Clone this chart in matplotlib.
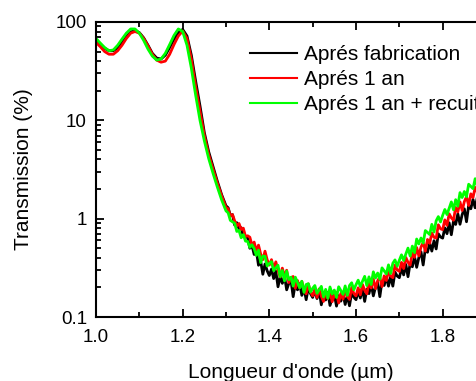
import numpy as np
import matplotlib
matplotlib.use("Agg")
import matplotlib.pyplot as plt
from matplotlib.ticker import FixedLocator, FixedFormatter, LogLocator, NullFormatter, MultipleLocator

plt.rcParams['font.family'] = ['Liberation Sans', 'DejaVu Sans']

# wavelength grid (um): smooth part every 0.01, noisy part every 0.005
wl_smooth = np.arange(100, 131) / 100
wl_noisy = np.arange(261, 377) * 0.005

# transmission (%)
black_smooth = [64, 59, 54, 51, 51, 55, 62, 71, 79, 82,
                78, 69, 58, 48, 43, 42, 46, 55, 67, 78,
                84, 72, 46, 25, 14, 7.5, 4.8, 3.4, 2.4, 1.75, 1.35]
red_smooth = [62, 56, 50, 47, 47, 51, 58, 68, 77, 80,
              77, 68, 57, 47, 41, 39, 40, 47, 59, 72,
              81, 68, 42, 22, 12.5, 7, 4.5, 3.2, 2.3, 1.7, 1.3]
green_smooth = [68, 61, 55, 51, 52, 58, 67, 77, 85, 85,
                77, 65, 53, 45, 41, 42, 48, 59, 73, 85,
                80, 58, 34, 18, 10, 6.2, 4.1, 2.9, 2.1, 1.55, 1.2]

black_noisy = [1.29, 1.08, 1.10, 0.86, 0.91, 0.79, 0.81, 0.655, 0.663, 0.64,
               0.50, 0.533, 0.432, 0.469, 0.336, 0.371, 0.272, 0.346, 0.295, 0.264,
               0.307, 0.246, 0.292, 0.203, 0.257, 0.22, 0.261, 0.189, 0.22, 0.235,
               0.161, 0.22, 0.189, 0.218, 0.166, 0.196, 0.15, 0.2, 0.173, 0.158,
               0.188, 0.154, 0.186, 0.133, 0.17, 0.149, 0.178, 0.131, 0.156, 0.169,
               0.129, 0.165, 0.145, 0.171, 0.134, 0.165, 0.13, 0.178, 0.159, 0.15,
               0.183, 0.156, 0.195, 0.144, 0.192, 0.173, 0.216, 0.164, 0.201, 0.225,
               0.161, 0.231, 0.209, 0.256, 0.206, 0.258, 0.206, 0.286, 0.261, 0.251,
               0.313, 0.268, 0.342, 0.257, 0.352, 0.324, 0.413, 0.32, 0.402, 0.46,
               0.338, 0.494, 0.455, 0.567, 0.468, 0.597, 0.492, 0.702, 0.651, 0.634,
               0.806, 0.704, 0.907, 0.686, 0.944, 0.873, 1.12, 0.877, 1.10, 1.26,
               0.93, 1.365, 1.26, 1.57, 1.29, 1.65]
red_noisy = [1.26, 1.064, 1.10, 0.95, 0.846, 0.893, 0.776, 0.80, 0.658, 0.67,
             0.648, 0.537, 0.578, 0.469, 0.538, 0.437, 0.383, 0.467, 0.382, 0.337,
             0.383, 0.306, 0.364, 0.298, 0.255, 0.314, 0.259, 0.299, 0.224, 0.252,
             0.258, 0.196, 0.235, 0.198, 0.23, 0.19, 0.172, 0.217, 0.181, 0.164,
             0.191, 0.158, 0.193, 0.163, 0.144, 0.182, 0.154, 0.184, 0.143, 0.167,
             0.177, 0.139, 0.174, 0.152, 0.185, 0.162, 0.151, 0.2, 0.173, 0.164,
             0.198, 0.168, 0.214, 0.187, 0.172, 0.226, 0.197, 0.243, 0.194, 0.234,
             0.254, 0.204, 0.262, 0.235, 0.294, 0.261, 0.251, 0.336, 0.301, 0.291,
             0.359, 0.311, 0.403, 0.36, 0.337, 0.451, 0.404, 0.509, 0.418, 0.515,
             0.572, 0.468, 0.615, 0.561, 0.716, 0.646, 0.634, 0.866, 0.789, 0.774,
             0.972, 0.855, 1.12, 1.02, 0.963, 1.30, 1.17, 1.48, 1.21, 1.49,
             1.67, 1.36, 1.79, 1.64, 2.08, 1.85]
green_noisy = [1.145, 0.96, 0.928, 0.899, 0.741, 0.759, 0.639, 0.688, 0.591, 0.587,
               0.51, 0.543, 0.495, 0.423, 0.479, 0.357, 0.417, 0.414, 0.33, 0.35,
               0.366, 0.296, 0.317, 0.336, 0.257, 0.297, 0.233, 0.293, 0.24, 0.254,
               0.206, 0.254, 0.224, 0.198, 0.231, 0.178, 0.214, 0.218, 0.179, 0.196,
               0.209, 0.174, 0.189, 0.205, 0.16, 0.191, 0.155, 0.202, 0.171, 0.188,
               0.158, 0.203, 0.186, 0.17, 0.207, 0.166, 0.209, 0.223, 0.189, 0.213,
               0.237, 0.204, 0.231, 0.259, 0.209, 0.256, 0.214, 0.288, 0.249, 0.28,
               0.242, 0.316, 0.295, 0.274, 0.339, 0.277, 0.352, 0.381, 0.328, 0.378,
               0.429, 0.376, 0.437, 0.502, 0.417, 0.526, 0.451, 0.621, 0.553, 0.636,
               0.565, 0.757, 0.724, 0.69, 0.875, 0.731, 0.952, 1.05, 0.925, 1.08,
               1.24, 1.10, 1.28, 1.48, 1.23, 1.56, 1.34, 1.84, 1.64, 1.89,
               1.67, 2.24, 2.13, 2.02, 2.55, 2.13]

labels = ["Aprés fabrication", "Aprés 1 an", "Aprés 1 an + recuit"]
colors = ["black", "#ff0000", "#00ff00"]

wl = np.concatenate([wl_smooth, wl_noisy])
series = [black_smooth + black_noisy, red_smooth + red_noisy, green_smooth + green_noisy]

fig = plt.figure(figsize=(4.77, 3.81), dpi=100)
ax = fig.add_axes([96 / 477, 64 / 381, 390 / 477, 295 / 381])

for y, c, lab in zip(series, colors, labels):
    ax.plot(wl, y, color=c, lw=2.0, label=lab)

ax.set_yscale('log')
ax.set_xlim(1.0, 1.9)
ax.set_ylim(0.1, 100)
ax.xaxis.set_major_locator(FixedLocator([1.0, 1.2, 1.4, 1.6, 1.8]))
ax.xaxis.set_major_formatter(FixedFormatter(["1.0", "1.2", "1.4", "1.6", "1.8"]))
ax.xaxis.set_minor_locator(MultipleLocator(0.1))
ax.yaxis.set_major_locator(FixedLocator([0.1, 1, 10, 100]))
ax.yaxis.set_major_formatter(FixedFormatter(["0.1", "1", "10", "100"]))
ax.yaxis.set_minor_locator(LogLocator(base=10, subs=np.arange(2, 10)))
ax.yaxis.set_minor_formatter(NullFormatter())

for s in ax.spines.values():
    s.set_linewidth(1.5)
ax.tick_params(which='both', direction='in', top=True, right=True, width=1.3, labelsize=13.5)
ax.tick_params(which='major', length=6)
ax.tick_params(which='minor', length=3.5)
ax.tick_params(axis='x', which='major', pad=9)
ax.tick_params(axis='y', which='major', pad=6.5)

ax.set_xlabel("Longueur d'onde (µm)", fontsize=15, labelpad=12)
ax.set_ylabel("Transmission (%)", fontsize=15, labelpad=16)

leg = ax.legend(loc='upper left', bbox_to_anchor=(250 / 477, 1 - 45 / 381), bbox_transform=fig.transFigure,
                frameon=False, fontsize=15, handlelength=2.26, handletextpad=0.34,
                labelspacing=0.29, borderpad=0, borderaxespad=0)
for h in leg.get_lines():
    h.set_linewidth(1.5)

fig.savefig("out.png", dpi=100)
